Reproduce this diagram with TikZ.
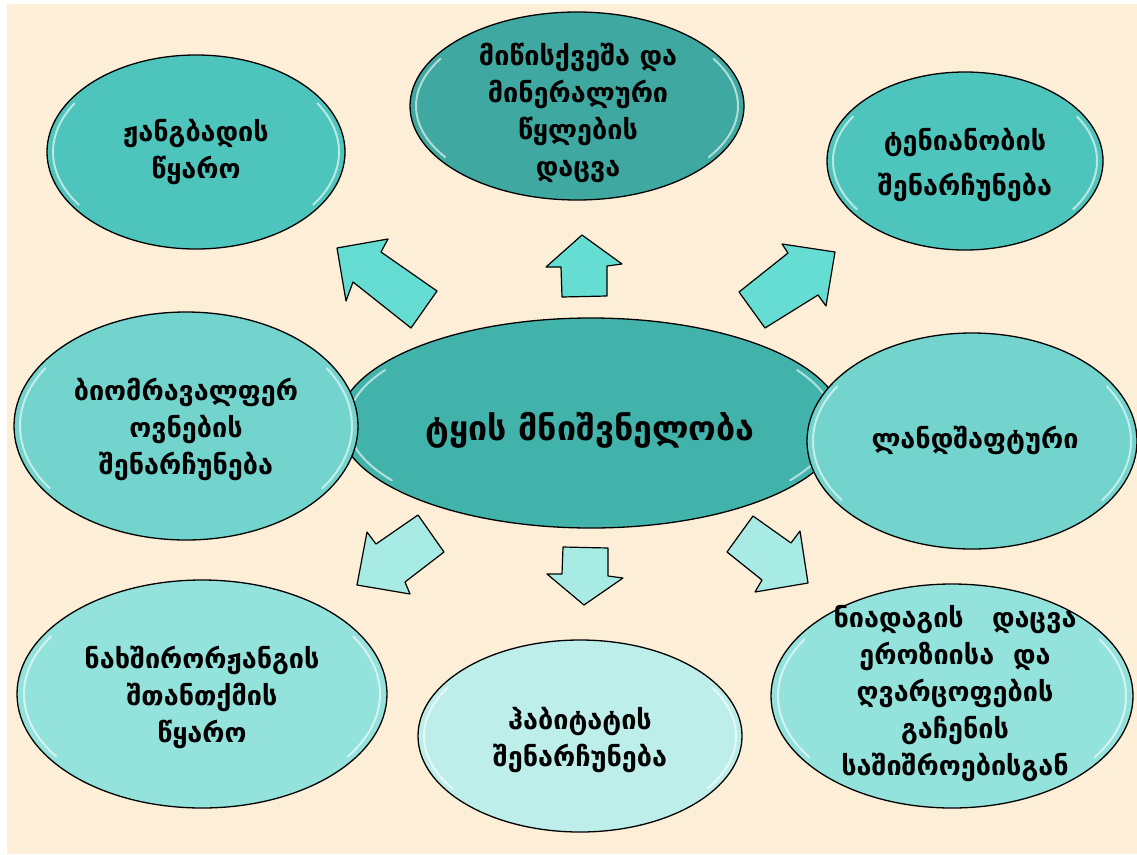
\documentclass[tikz,border=0pt]{standalone}
\usepackage{fontspec}
\setmainfont{DejaVu Sans}
\usetikzlibrary{shapes.geometric}
\definecolor{bg}{RGB}{253,238,215}
\definecolor{cA}{RGB}{78,197,188}
\definecolor{cB}{RGB}{63,169,161}
\definecolor{cC}{RGB}{66,179,170}
\definecolor{cD}{RGB}{114,212,205}
\definecolor{cE}{RGB}{148,226,220}
\definecolor{cF}{RGB}{189,238,234}
\definecolor{arrU}{RGB}{102,221,210}
\definecolor{arrD}{RGB}{168,234,228}
\tikzset{
  bubble/.style={ellipse, draw=black, line width=1.3pt, inner sep=0pt},
  lbl/.style={align=center, inner sep=0pt, font=\bfseries\fontsize{27}{37}\selectfont},
  gloss/.style={white, opacity=0.6, line width=2pt, line cap=round},
  bigarrow/.style={draw=black, line width=1.2pt, line join=round}
}
\newcommand\glossy[3]{%
  \draw[gloss] (#1) ++(145:#2 and #3) arc[start angle=145, end angle=212, x radius=#2, y radius=#3];
  \draw[gloss] (#1) ++(-32:#2 and #3) arc[start angle=-32, end angle=35, x radius=#2, y radius=#3];
}
\begin{document}
\begin{tikzpicture}[x=1pt,y=-1pt]
\useasboundingbox (0,0) rectangle (1137,854);
\fill[white] (0,0) rectangle (1137,854);
\fill[bg] (7,4) rectangle (1137,854);

% centre ellipse (behind side ellipses)
\node[bubble, fill=cC, minimum width=504pt, minimum height=210pt] (ctr) at (591,423) {};
\glossy{ctr.center}{243}{100}

% top row
\node[bubble, fill=cA, minimum width=298pt, minimum height=194pt] (tl) at (196,152) {};
\glossy{tl.center}{143}{92}
\node[bubble, fill=cB, minimum width=334pt, minimum height=188pt] (tc) at (577,106) {};
\glossy{tc.center}{161}{89}
\node[bubble, fill=cA, minimum width=276pt, minimum height=178pt] (tr) at (965,161) {};
\glossy{tr.center}{132}{84}

% middle row
\node[bubble, fill=cD, minimum width=344pt, minimum height=228pt] (lm) at (186,426) {};
\glossy{lm.center}{166}{109}
\node[bubble, fill=cD, minimum width=330pt, minimum height=216pt] (rm) at (972,441) {};
\glossy{rm.center}{159}{103}

% bottom row
\node[bubble, fill=cE, minimum width=370pt, minimum height=228pt] (bl) at (202,694) {};
\glossy{bl.center}{178}{109}
\node[bubble, fill=cF, minimum width=324pt, minimum height=192pt] (bc) at (580,736) {};
\glossy{bc.center}{156}{91}
\node[bubble, fill=cE, minimum width=362pt, minimum height=224pt] (br) at (952,696) {};
\glossy{br.center}{174}{107}

% arrows
\draw[bigarrow, fill=arrU] (337,248) -- (388,239) -- (381,252) -- (437,291) -- (411,328) -- (353,282) -- (346,301) -- cycle;
\draw[bigarrow, fill=arrU] (582,235) -- (622,264) -- (607,266) -- (607,296) -- (562,297) -- (561,267) -- (546,267) -- cycle;
\draw[bigarrow, fill=arrU] (835,252) -- (826,306) -- (818,295) -- (765,328) -- (739,292) -- (788,253) -- (782,244) -- cycle;
\draw[bigarrow, fill=arrD] (357,585) -- (367,532) -- (376,544) -- (418,515) -- (444,552) -- (405,582) -- (410,594) -- cycle;
\draw[bigarrow, fill=arrD] (584,605) -- (547,574) -- (562,574) -- (563,547) -- (608,548) -- (608,576) -- (623,578) -- cycle;
\draw[bigarrow, fill=arrD] (808,583) -- (755,592) -- (762,580) -- (727,552) -- (753,516) -- (791,543) -- (800,531) -- cycle;

% labels
\node[lbl] (tlT) at (196,152) {ჟანგბადის\\წყარო};
\node[lbl] (tcT) at (578,113) {მიწისქვეშა და\\მინერალური\\წყლების\\დაცვა};
\node[lbl, font=\bfseries\fontsize{27}{45}\selectfont] (trT) at (965,165) {ტენიანობის\\შენარჩუნება};
\node[lbl] (lmT) at (186,429) {ბიომრავალფერ\\ოვნების\\შენარჩუნება};
\node[lbl, font=\bfseries\fontsize{34}{40}\selectfont] (ctrT) at (590,430) {ტყის მნიშვნელობა};
\node[lbl] (rmT) at (975,440) {ლანდშაფტური};
\node[lbl] (blT) at (202,697) {ნახშირორჟანგის\\შთანთქმის\\წყარო};
\node[lbl] (bcT) at (580,740) {ჰაბიტატის\\შენარჩუნება};
\node[lbl] (brT) at (955,694) {ნიადაგის~~~დაცვა\\ეროზიისა~~და\\ღვარცოფების\\გაჩენის\\საშიშროებისგან};
\end{tikzpicture}
\end{document}
